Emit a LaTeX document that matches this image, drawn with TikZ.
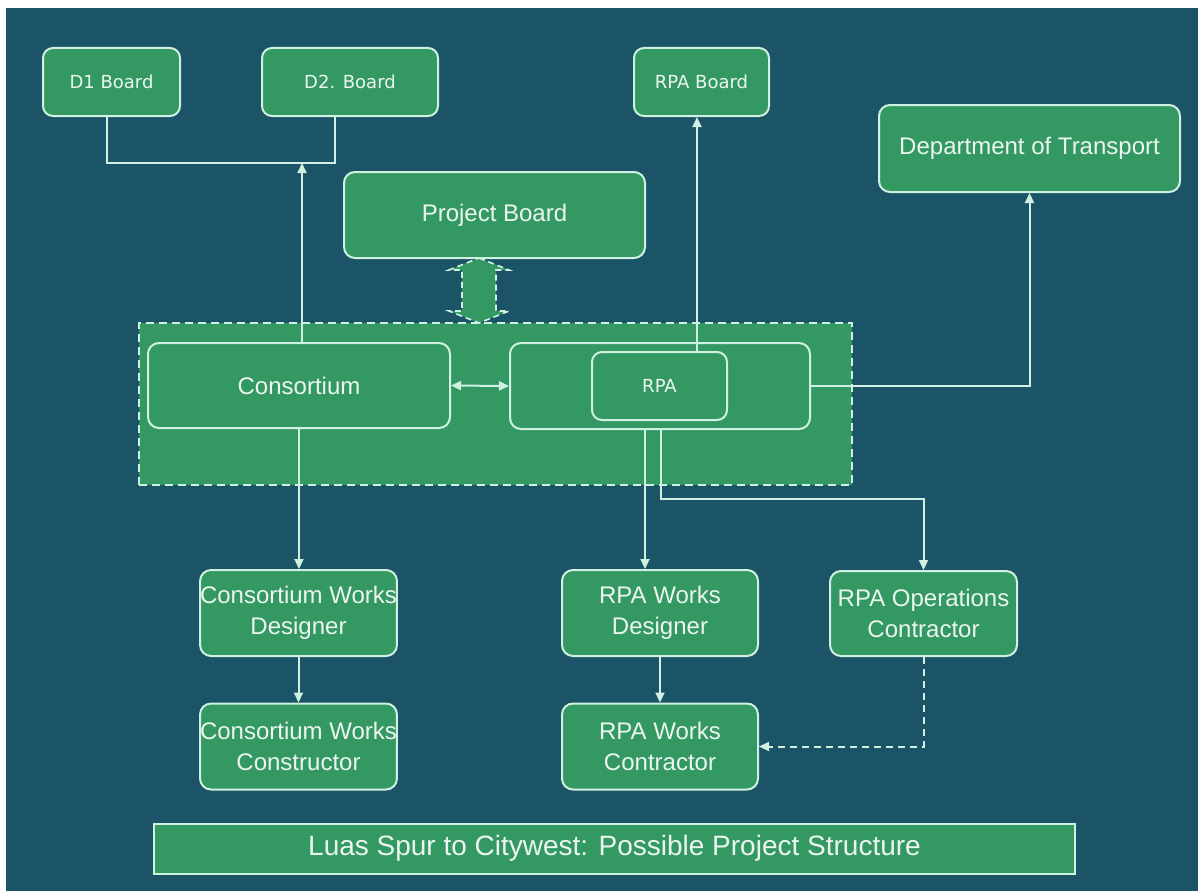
\documentclass[tikz,border=0pt]{standalone}
\usepackage{fontspec}
\setmainfont{Liberation Sans}
\newfontfamily\smallfont{DejaVu Sans}
\usetikzlibrary{arrows.meta}
\definecolor{bgc}{RGB}{27,83,103}
\definecolor{boxg}{RGB}{52,152,98}
\definecolor{edgec}{RGB}{208,240,225}
\definecolor{txtc}{RGB}{236,246,240}
\begin{document}
\begin{tikzpicture}[x=1pt,y=-1pt,
  box/.style={draw=edgec, fill=boxg, line width=2pt, rounded corners=11pt, text=txtc,
    align=center, inner sep=0pt, font=\fontsize{24}{31}\selectfont},
  sbox/.style={box, rounded corners=10pt, font=\smallfont\fontsize{18}{22}\selectfont},
  conn/.style={draw=edgec, line width=2pt},
  tip/.tip={Triangle[length=10pt,width=9pt]},
  arr/.style={conn, -tip},
]
\useasboundingbox (0,0) rectangle (1198,891);
\fill[white] (0,0) rectangle (1198,891);
\fill[bgc] (6,8) rectangle (1198,891);

% group
\node[draw=edgec, fill=boxg, line width=2pt, dash pattern=on 8pt off 5pt,
  minimum width=713pt, minimum height=162pt, inner sep=0pt] (grp) at (495.5,404) {};

% top boards
\node[sbox, minimum width=137pt, minimum height=68pt] (d1) at (111.5,82) {D1 Board};
\node[sbox, minimum width=176pt, minimum height=68pt] (d2) at (350,82) {D2. Board};
\node[sbox, minimum width=135pt, minimum height=68pt] (rpab) at (701.5,82) {RPA Board};
\node[box, minimum width=301pt, minimum height=87pt] (dot) at (1029.5,148.5) {Department of Transport};
\node[box, minimum width=301pt, minimum height=86pt] (pb) at (494.5,215) {Project Board};

% group contents
\node[box, minimum width=302pt, minimum height=85pt] (cons) at (299,385.5) {Consortium};
\node[box, minimum width=300pt, minimum height=86pt] (rpao) at (660,386) {};
\node[sbox, minimum width=135pt, minimum height=68pt] (rpa) at (659.5,386) {RPA};

% lower boxes
\node[box, minimum width=196pt, minimum height=86pt] (cwd) at (298.5,613) {Consortium Works\\Designer};
\node[box, minimum width=196pt, minimum height=86pt] (cwc) at (298.5,746.5) {Consortium Works\\Constructor};
\node[box, minimum width=196pt, minimum height=86pt] (rwd) at (660,613) {RPA Works\\Designer};
\node[box, minimum width=196pt, minimum height=86pt] (rwc) at (660,746.5) {RPA Works\\Contractor};
\node[box, minimum width=187pt, minimum height=85pt] (roc) at (923.5,613.5) {RPA Operations\\Contractor};

% title
\node[draw=edgec, fill=boxg, line width=2pt, minimum width=921pt, minimum height=50pt,
  inner sep=0pt, text=txtc, font=\fontsize{28}{32}\selectfont] (title) at (614.5,848.5)
  {Luas Spur to Citywest: Possible Project Structure};

% dashed double arrow between project board and group
\draw[conn, fill=boxg, line width=1.6pt, dash pattern=on 6pt off 4pt]
  (479,258) -- (509,270) -- (496,270) -- (496,311) -- (509,311) -- (479,323)
  -- (449,311) -- (462,311) -- (462,270) -- (449,270) -- cycle;

% connectors
\coordinate (xd1) at (107,0);
\coordinate (xd2) at (335,0);
\coordinate (jd) at (302,163);
\draw[conn] (d1.south -| xd1) |- (jd) -| (d2.south -| xd2);
\draw[arr] (cons.north -| jd) -- (jd);

\coordinate (xr) at (697,0);
\draw[arr] (rpa.north -| xr) -- (rpab.south -| xr);
\draw[arr] (rpao.east) -| (dot.south);
\draw[conn, tip-tip] (cons.east) -- (rpao.west);

\draw[arr] (cons.south) -- (cons.south |- cwd.north);
\draw[arr] (cwd.south) -- (cwc.north);

\coordinate (xw) at (645,0);
\draw[arr] (rpao.south -| xw) -- (rwd.north -| xw);
\coordinate (jo) at (661,499);
\draw[arr] (rpao.south -| jo) -- (jo) -| (roc.north);
\draw[arr] (rwd.south) -- (rwc.north);
\draw[arr, dash pattern=on 7pt off 5pt] (roc.south) |- (rwc.east);
\end{tikzpicture}
\end{document}
